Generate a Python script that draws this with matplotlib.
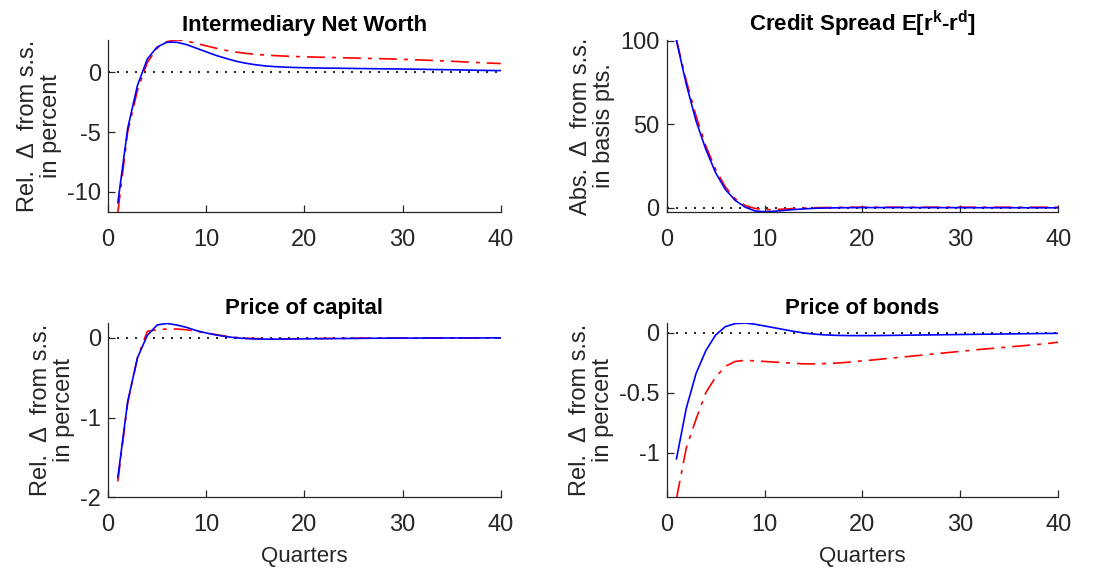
import numpy as np
import matplotlib
matplotlib.use('Agg')
import matplotlib.pyplot as plt

plt.rcParams['font.family'] = ['Liberation Sans', 'DejaVu Sans']
plt.rcParams['mathtext.fontset'] = 'custom'
plt.rcParams['mathtext.rm'] = 'Liberation Sans'
plt.rcParams['mathtext.bf'] = 'Liberation Sans:bold'

TXT = '#262626'

quarters = np.arange(1, 41)

# ── Intermediary net worth (rel. % dev.) ──────────────────────────────────
nw_blue = [-10.9, -4.7, -1.1, 1.1, 2.1, 2.5, 2.5, 2.3, 2.0, 1.7,
           1.4, 1.15, 0.92, 0.75, 0.62, 0.52, 0.46, 0.42, 0.39, 0.37,
           0.35, 0.34, 0.33, 0.32, 0.31, 0.30, 0.29, 0.28, 0.27, 0.26,
           0.25, 0.24, 0.22, 0.21, 0.2, 0.18, 0.17, 0.15, 0.14, 0.13]
nw_red = [-11.7, -5.0, -1.5, 0.8, 2.0, 2.55, 2.7, 2.6, 2.4, 2.2,
          2.0, 1.82, 1.68, 1.57, 1.49, 1.43, 1.38, 1.34, 1.31, 1.28,
          1.26, 1.24, 1.22, 1.20, 1.18, 1.16, 1.14, 1.12, 1.10, 1.07,
          1.04, 1.01, 0.98, 0.94, 0.91, 0.87, 0.83, 0.79, 0.75, 0.72]

# ── Credit spread (abs. dev., bp) ─────────────────────────────────────────
cs_blue = [100, 74, 52, 35, 21, 11, 4.5, 0.5, -1.8, -2.3,
           -2.0, -1.5, -1.0, -0.6, -0.3, -0.1, 0.0, 0.1, 0.15, 0.2,
           0.2, 0.2, 0.2, 0.2, 0.2, 0.18, 0.17, 0.16, 0.15, 0.14,
           0.13, 0.12, 0.11, 0.1, 0.1, 0.09, 0.08, 0.08, 0.07, 0.07]
cs_red = [100.5, 76, 55, 37, 23, 12.5, 5.5, 1.5, -0.3, -1.0,
          -1.0, -0.7, -0.4, -0.1, 0.1, 0.2, 0.3, 0.35, 0.4, 0.4,
          0.4, 0.4, 0.4, 0.4, 0.4, 0.4, 0.4, 0.4, 0.4, 0.4,
          0.4, 0.4, 0.4, 0.4, 0.4, 0.4, 0.4, 0.4, 0.4, 0.4]

# ── Price of capital (rel. % dev.) ────────────────────────────────────────
pk_blue = [-1.75, -0.8, -0.25, 0.03, 0.16, 0.18, 0.16, 0.13, 0.09, 0.06,
           0.035, 0.015, 0.0, -0.01, -0.015, -0.017, -0.017, -0.016, -0.015, -0.013,
           -0.012, -0.011, -0.01, -0.009, -0.008, -0.007, -0.006, -0.005, -0.005, -0.004,
           -0.004, -0.003, -0.003, -0.003, -0.002, -0.002, -0.002, -0.002, -0.001, -0.001]
pk_red = [-1.8, -0.82, -0.25, 0.08, 0.1, 0.11, 0.11, 0.1, 0.08, 0.06,
          0.04, 0.02, 0.005, -0.005, -0.01, -0.012, -0.013, -0.013, -0.012, -0.011,
          -0.01, -0.009, -0.008, -0.007, -0.006, -0.005, -0.005, -0.004, -0.004, -0.003,
          -0.003, -0.003, -0.002, -0.002, -0.002, -0.002, -0.001, -0.001, -0.001, -0.001]

# ── Price of bonds (rel. % dev.) ──────────────────────────────────────────
pb_blue = [-1.05, -0.63, -0.34, -0.15, -0.02, 0.05, 0.075, 0.08, 0.07, 0.055,
           0.04, 0.025, 0.01, -0.003, -0.012, -0.018, -0.022, -0.024, -0.025, -0.025,
           -0.025, -0.024, -0.023, -0.022, -0.021, -0.02, -0.019, -0.018, -0.017, -0.016,
           -0.015, -0.014, -0.013, -0.012, -0.011, -0.01, -0.009, -0.008, -0.007, -0.006]
pb_red = [-1.38, -0.96, -0.72, -0.5, -0.37, -0.28, -0.24, -0.23, -0.235, -0.24,
          -0.245, -0.25, -0.255, -0.26, -0.26, -0.258, -0.255, -0.25, -0.243, -0.235,
          -0.228, -0.22, -0.212, -0.204, -0.196, -0.188, -0.18, -0.172, -0.164, -0.156,
          -0.148, -0.14, -0.133, -0.126, -0.119, -0.112, -0.105, -0.098, -0.09, -0.08]

panels = [
    ('Intermediary Net Worth', 'Rel.  Δ  from s.s.\nin percent', nw_blue, nw_red,
     (-11.7, 2.7), [-10, -5, 0], ['-10', '-5', '0']),
    (r'Credit Spread E[r$^{\mathbf{k}}$-r$^{\mathbf{d}}$]', 'Abs.  Δ  from s.s.\nin basis pts.',
     cs_blue, cs_red, (-2.6, 100.5), [0, 50, 100], ['0', '50', '100']),
    ('Price of capital', 'Rel.  Δ  from s.s.\nin percent', pk_blue, pk_red,
     (-2.0, 0.19), [-2, -1, 0], ['-2', '-1', '0']),
    ('Price of bonds', 'Rel.  Δ  from s.s.\nin percent', pb_blue, pb_red,
     (-1.37, 0.083), [-1, -0.5, 0], ['-1', '-0.5', '0']),
]

fig = plt.figure(figsize=(11.08, 5.69), dpi=100, facecolor='white')
boxes = [
    [0.0975, 0.627, 0.3545, 0.303],
    [0.6017, 0.627, 0.3533, 0.303],
    [0.0975, 0.126, 0.3545, 0.307],
    [0.6017, 0.126, 0.3533, 0.307],
]

for k, (title, ylab, yb, yr, ylim, yt, ytl) in enumerate(panels):
    ax = fig.add_axes(boxes[k])
    ax.plot([0, 40], [0, 0], color='black', lw=1.2, linestyle=(0, (1.2, 4.2)))
    ax.plot(quarters, yr, color='red', lw=1.2, linestyle=(0, (10.8, 4.2, 2.4, 4.2)))
    ax.plot(quarters, yb, 'b-', lw=1.2)
    ax.set_xlim(0, 40)
    ax.set_ylim(*ylim)
    ax.set_xticks([0, 10, 20, 30, 40])
    ax.set_yticks(yt)
    ax.set_yticklabels(ytl)
    for s in ['top', 'right']:
        ax.spines[s].set_visible(False)
    for s in ['left', 'bottom']:
        ax.spines[s].set_color(TXT)
        ax.spines[s].set_linewidth(0.9)
    ax.tick_params(direction='in', length=5, width=0.9, colors=TXT,
                   labelsize=17)
    ax.tick_params(axis='x', pad=12)
    ax.tick_params(axis='y', pad=5)
    ax.set_title(title, fontsize=16, fontweight='bold', color='black', pad=6)
    ax.set_ylabel(ylab, fontsize=17, color=TXT, linespacing=1.05, labelpad=4)
    if k >= 2:
        ax.set_xlabel('Quarters', fontsize=16, color=TXT, labelpad=7)

fig.savefig('out.png', dpi=100, facecolor='white')
